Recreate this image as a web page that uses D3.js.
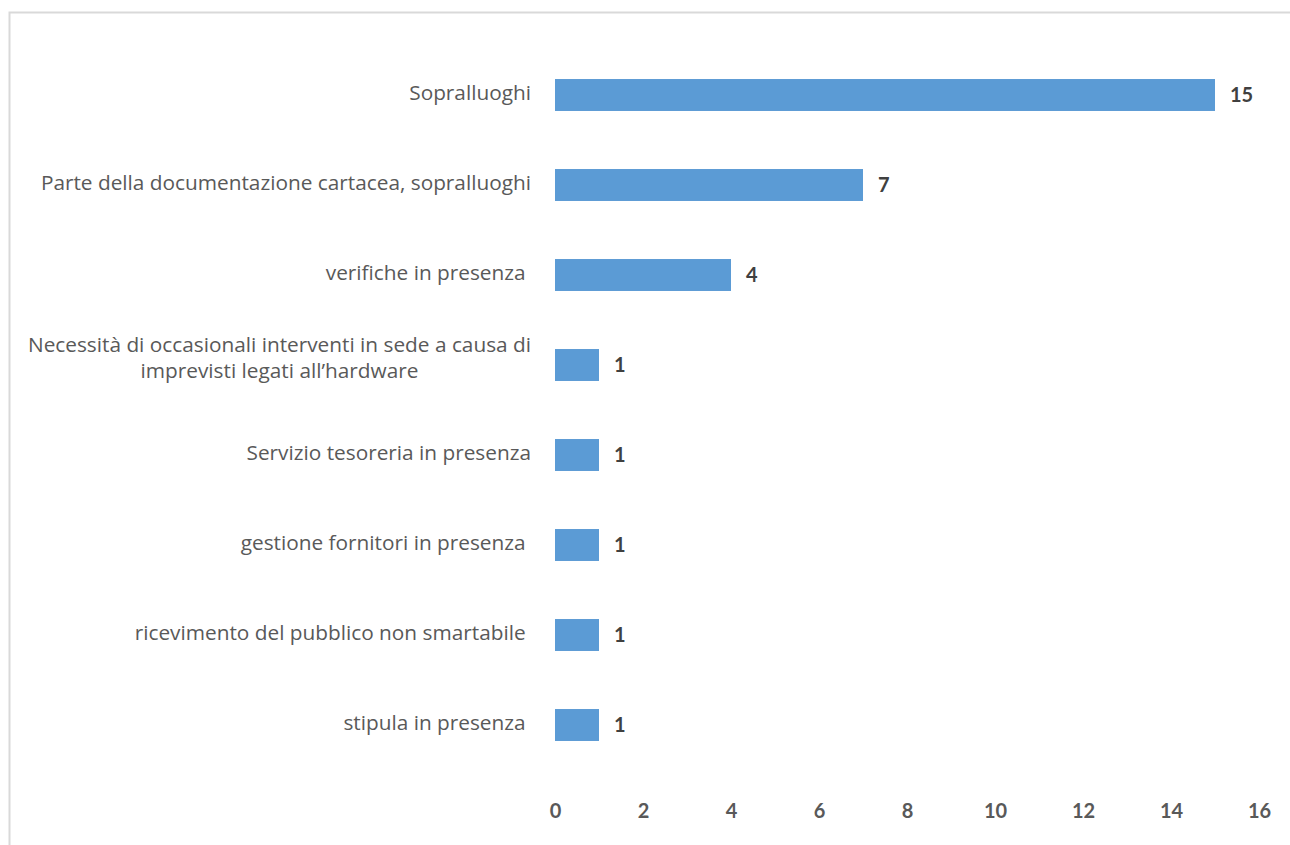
<!DOCTYPE html>
<html>
<head>
<meta charset="utf-8">
<script src="https://cdn.jsdelivr.net/npm/d3@7"></script>
<style>
  html, body { margin: 0; padding: 0; background: #fff; }
  svg { display: block; }
  .cat text { white-space: pre; }
</style>
</head>
<body>
<svg id="chart" width="1290" height="845"></svg>
<script>
// Activities that still require presence (counts of responses)
const categories = [
  ["Sopralluoghi"],
  ["Parte della documentazione cartacea, sopralluoghi"],
  ["verifiche in presenza "],
  ["Necessità di occasionali interventi in sede a causa di", "imprevisti legati all\u2019hardware"],
  ["Servizio tesoreria in presenza"],
  ["gestione fornitori in presenza "],
  ["ricevimento del pubblico non smartabile "],
  ["stipula in presenza "]
];
const values = [15, 7, 4, 1, 1, 1, 1, 1];
const xTicks = [0, 2, 4, 6, 8, 10, 12, 14, 16];

const svg = d3.select("#chart");
const labelFont = "'Open Sans', sans-serif";
const numFont = "Lato, 'Open Sans', sans-serif";

// chart frame
svg.append("rect")
  .attr("x", 9.5).attr("y", 12.5)
  .attr("width", 1300).attr("height", 900)
  .attr("fill", "none")
  .attr("stroke", "#d9d9d9")
  .attr("stroke-width", 2);

const x = d3.scaleLinear().domain([0, 16]).range([555, 1259]);
const y = d3.scaleBand()
  .domain(d3.range(categories.length))
  .range([50, 770])
  .paddingInner(0.645)
  .paddingOuter(0.3225);

// bars
svg.append("g").selectAll("rect")
  .data(values)
  .join("rect")
  .attr("x", x(0))
  .attr("y", (d, i) => y(i))
  .attr("width", d => x(d) - x(0))
  .attr("height", y.bandwidth())
  .attr("fill", "#5b9bd5");

// value labels
svg.append("g").selectAll("text")
  .data(values)
  .join("text")
  .attr("x", d => x(d) + 15)
  .attr("y", (d, i) => y(i) + y.bandwidth() / 2)
  .attr("dy", "0.36em")
  .attr("font-family", numFont)
  .attr("font-weight", "bold")
  .attr("font-size", 20)
  .attr("fill", "#404040")
  .text(d => d);

// category labels (multi-line labels are centred under their first line)
const labelX = 531;
const lineGap = 26;
const catG = svg.append("g")
  .attr("class", "cat")
  .attr("font-family", labelFont)
  .attr("font-size", 20.8)
  .attr("fill", "#595959");
categories.forEach((lines, i) => {
  const cy = y(i) + y.bandwidth() / 2;
  const firstBase = lines.length > 1 ? cy - lineGap / 2 * (lines.length - 1) : cy + 4.5;
  const t0 = catG.append("text")
    .attr("x", labelX)
    .attr("y", firstBase)
    .attr("text-anchor", "end")
    .text(lines[0]);
  if (lines.length > 1) {
    const w = t0.node().getComputedTextLength();
    lines.slice(1).forEach((ln, k) => {
      catG.append("text")
        .attr("x", labelX - w / 2)
        .attr("y", firstBase + (k + 1) * lineGap)
        .attr("text-anchor", "middle")
        .text(ln);
    });
  }
});

// x axis (labels only)
const axis = d3.axisBottom(x).tickValues(xTicks).tickSize(0).tickPadding(0);
const ax = svg.append("g")
  .attr("transform", "translate(0,804)")
  .call(axis);
ax.select(".domain").remove();
ax.selectAll("text")
  .attr("font-family", numFont)
  .attr("font-weight", "bold")
  .attr("font-size", 20)
  .attr("fill", "#595959")
  .attr("dy", "0.71em");
</script>
</body>
</html>
